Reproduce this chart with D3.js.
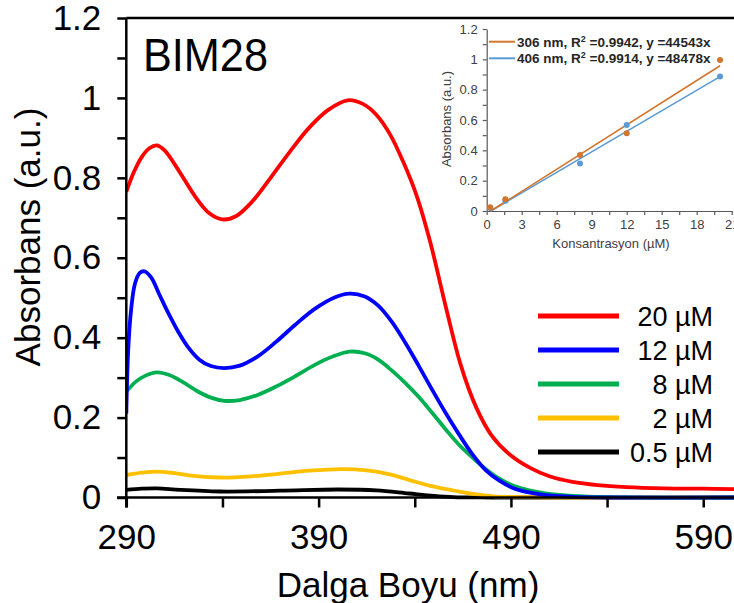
<!DOCTYPE html>
<html>
<head>
<meta charset="utf-8">
<script src="https://cdn.jsdelivr.net/npm/d3@7"></script>
<style>
  html,body{margin:0;padding:0;background:#fff}
  svg{display:block;font-family:"Liberation Sans",Arial,sans-serif}
</style>
</head>
<body>
<svg id="chart" width="734" height="603"></svg>
<script>
// main spectra: wavelength (nm) / absorbance pairs
const red20 = [[290,0.765],[294,0.815],[298,0.852],[302,0.874],[306,0.881],[310,0.868],[315,0.835],[320,0.797],[326,0.752],[333,0.712],[340,0.696],[347,0.704],[355,0.738],[365,0.8],[375,0.865],[385,0.925],[395,0.97],[405,0.994],[413,0.985],[420,0.958],[427,0.91],[434,0.84],[441,0.755],[448,0.64],[456,0.48],[464,0.33],[472,0.225],[480,0.155],[490,0.105],[500,0.074],[510,0.053],[522,0.039],[535,0.031],[550,0.026],[570,0.023],[590,0.022],[606,0.021]]
const blue12 = [[290,0.21],[291,0.37],[292.5,0.47],[294.5,0.535],[297,0.562],[299.5,0.566],[303,0.55],[307,0.51],[312,0.46],[317,0.415],[322,0.377],[328,0.345],[334,0.329],[341,0.324],[349,0.33],[358,0.352],[368,0.39],[378,0.433],[388,0.472],[398,0.5],[406,0.51],[414,0.503],[421,0.48],[428,0.44],[435,0.388],[442,0.33],[449,0.27],[456,0.212],[463,0.158],[470,0.108],[477,0.068],[484,0.042],[491,0.024],[500,0.012],[510,0.005],[522,0.0015],[540,0],[606,0]]
const green8 = [[290,0.265],[295,0.29],[300,0.305],[306,0.313],[312,0.307],[319,0.29],[327,0.266],[334,0.25],[341,0.242],[349,0.244],[358,0.256],[368,0.278],[378,0.304],[388,0.332],[398,0.354],[406,0.365],[414,0.361],[421,0.345],[428,0.318],[435,0.287],[442,0.252],[449,0.212],[456,0.171],[463,0.132],[470,0.1],[477,0.071],[484,0.047],[491,0.03],[500,0.017],[510,0.009],[522,0.004],[540,0.001],[606,0]]
const yellow2 = [[290,0.056],[298,0.062],[306,0.065],[315,0.061],[325,0.054],[339,0.05],[355,0.053],[370,0.06],[385,0.067],[402,0.071],[415,0.068],[427,0.058],[437,0.044],[450,0.027],[463,0.015],[472,0.008],[481,0.003],[495,0.001],[520,0],[606,0]]
const black05 = [[290,0.019],[298,0.022],[306,0.023],[318,0.019],[339,0.015],[370,0.017],[400,0.02],[420,0.018],[437,0.01],[450,0.004],[460,0.001],[480,0],[606,0]]

const seriesNames = ['20 µM','12 µM','8 µM','2 µM','0.5 µM']
const seriesColors = ['#ff0000','#0000ff','#00b050','#ffc000','#000000']
const seriesData = [red20, blue12, green8, yellow2, black05]

const xTicks = [290,390,490,590]
const xMinor = [340,440,540]
const yTicks = [0,0.2,0.4,0.6,0.8,1,1.2]
const yMinor = [0.1,0.3,0.5,0.7,0.9,1.1]

// inset: concentration (µM) vs absorbance
const conc = [0.3,1.6,8,12,20]
const abs306 = [0.024,0.077,0.369,0.512,0.996]
const abs406 = [0.02,0.068,0.314,0.567,0.886]
const fit306 = [[0.35,0],[20,0.958]]
const fit406 = [[0.35,0],[20,0.886]]
const insetXTicks = [0,3,6,9,12,15,18,21]
const insetXMinor = [1.5,4.5,7.5,10.5,13.5,16.5,19.5]
const insetYTicks = [0,0.2,0.4,0.6,0.8,1,1.2]
const insetYMinor = [0.1,0.3,0.5,0.7,0.9,1.1]

const svg = d3.select('#chart')
const fmt = d3.format('~g')

// ---- main chart
const x = d3.scaleLinear().domain([290,606]).range([126.3,734])
const y = d3.scaleLinear().domain([0,1.2]).range([497.5,18])

svg.append('defs').append('clipPath').attr('id','plotClip')
  .append('rect').attr('x',126).attr('y',0).attr('width',608).attr('height',500)

const line = d3.line().x(d=>x(d[0])).y(d=>y(d[1])).curve(d3.curveCatmullRom.alpha(0.5))
const curves = svg.append('g').attr('clip-path','url(#plotClip)')
seriesData.slice().reverse().forEach((s,i)=>{
  const k = seriesData.length-1-i
  curves.append('path').attr('d', line(s)).attr('fill','none')
    .attr('stroke', seriesColors[k]).attr('stroke-width',3.8).attr('stroke-linejoin','round')
})

// top frame
svg.append('line').attr('x1',x(290)).attr('x2',734).attr('y1',y(1.2)).attr('y2',y(1.2))
  .attr('stroke','#000').attr('stroke-width',2.5)

const xAxis = svg.append('g').attr('transform',`translate(0,${y(0)})`)
  .call(d3.axisBottom(x).tickValues(xTicks).tickSize(10).tickSizeOuter(0).tickPadding(17).tickFormat(d3.format('d')))
svg.append('g').attr('transform',`translate(0,${y(0)})`)
  .call(d3.axisBottom(x).tickValues(xMinor).tickSize(10).tickSizeOuter(0).tickFormat(''))
  .select('.domain').remove()
const yAxis = svg.append('g').attr('transform',`translate(${x(290)},0)`)
  .call(d3.axisLeft(y).tickValues(yTicks).tickSize(9).tickSizeOuter(0).tickPadding(16).tickFormat(fmt))
svg.append('g').attr('transform',`translate(${x(290)},0)`)
  .call(d3.axisLeft(y).tickValues(yMinor).tickSize(9).tickSizeOuter(0).tickFormat(''))
  .select('.domain').remove()

svg.selectAll('.tick line').attr('stroke','#000').attr('stroke-width',2.5)
xAxis.select('.domain').attr('stroke','#000').attr('stroke-width',2.5).attr('d',`M117,0H734`)
yAxis.select('.domain').attr('stroke','#000').attr('stroke-width',2.5).attr('d',`M0,${y(1.2)}V${y(0)+10}`)
xAxis.selectAll('text').attr('font-size',35).attr('fill','#000').attr('font-family','"Liberation Sans",Arial')
yAxis.selectAll('text').attr('font-size',35).attr('fill','#000').attr('font-family','"Liberation Sans",Arial')

svg.append('text').attr('x',408).attr('y',597).attr('text-anchor','middle')
  .attr('font-size',35).text('Dalga Boyu (nm)')
svg.append('text').attr('transform','translate(40,237) rotate(-90)').attr('text-anchor','middle')
  .attr('font-size',35).text('Absorbans (a.u.)')
svg.append('text').attr('transform','translate(143,71) scale(0.92,1)').attr('font-size',47).text('BIM28')

// legend
const leg = svg.append('g')
seriesNames.forEach((n,i)=>{
  const ly = 316 + i*34
  leg.append('line').attr('x1',538).attr('x2',619).attr('y1',ly).attr('y2',ly)
    .attr('stroke',seriesColors[i]).attr('stroke-width',5)
  leg.append('text').attr('x',713).attr('y',ly+10).attr('text-anchor','end')
    .attr('font-size',27).text(n)
})

// ---- inset
const ix = d3.scaleLinear().domain([0,21]).range([486.7,731.7])
const iy = d3.scaleLinear().domain([0,1.2]).range([211,29])
const inset = svg.append('g')
const grey = '#595959'
const ixAxis = inset.append('g').attr('transform',`translate(0,${iy(0)})`)
  .call(d3.axisBottom(ix).tickValues(insetXTicks).tickSize(4).tickSizeOuter(0).tickPadding(5))
inset.append('g').attr('transform',`translate(0,${iy(0)})`)
  .call(d3.axisBottom(ix).tickValues(insetXMinor).tickSize(4).tickSizeOuter(0).tickFormat(''))
  .select('.domain').remove()
const iyAxis = inset.append('g').attr('transform',`translate(${ix(0)},0)`)
  .call(d3.axisLeft(iy).tickValues(insetYTicks).tickSize(4).tickSizeOuter(0).tickPadding(5).tickFormat(fmt))
inset.append('g').attr('transform',`translate(${ix(0)},0)`)
  .call(d3.axisLeft(iy).tickValues(insetYMinor).tickSize(4).tickSizeOuter(0).tickFormat(''))
  .select('.domain').remove()
inset.selectAll('.domain, .tick line').attr('stroke',grey).attr('stroke-width',1.2)
inset.selectAll('text').attr('font-size',13).attr('fill','#404040').attr('font-family','"Liberation Sans",Arial')

inset.append('text').attr('x',611).attr('y',248).attr('text-anchor','middle')
  .attr('font-size',13).attr('fill','#404040').text('Konsantrasyon (µM)')
inset.append('text').attr('transform','translate(451,119) rotate(-90)').attr('text-anchor','middle')
  .attr('font-size',13).attr('fill','#404040').text('Absorbans (a.u.)')

const iline = d3.line().x(d=>ix(d[0])).y(d=>iy(d[1]))
const c306 = '#d2762d', c406 = '#5b9bd5'
inset.append('path').attr('d',iline(fit406)).attr('fill','none').attr('stroke',c406).attr('stroke-width',1.6)
inset.append('path').attr('d',iline(fit306)).attr('fill','none').attr('stroke',c306).attr('stroke-width',1.6)
inset.selectAll('.p406').data(conc).enter().append('circle')
  .attr('cx',d=>ix(d)).attr('cy',(d,i)=>iy(abs406[i])).attr('r',3).attr('fill',c406)
inset.selectAll('.p306').data(conc).enter().append('circle')
  .attr('cx',d=>ix(d)).attr('cy',(d,i)=>iy(abs306[i])).attr('r',3).attr('fill',c306)

const insetLeg = [['306 nm, R','=0.9942, y =44543x',c306],['406 nm, R','=0.9914, y =48478x',c406]]
insetLeg.forEach((l,i)=>{
  const ly = 41.7 + i*16.6
  inset.append('line').attr('x1',489).attr('x2',515).attr('y1',ly).attr('y2',ly)
    .attr('stroke',l[2]).attr('stroke-width',2)
  const t = inset.append('text').attr('x',517).attr('y',ly+5).attr('font-size',13.5)
    .attr('font-weight','bold').attr('fill','#262626')
  t.append('tspan').text(l[0])
  t.append('tspan').attr('font-size',9).attr('dy',-5).text('2')
  t.append('tspan').attr('dy',5).text(' '+l[1])
})
</script>
</body>
</html>
